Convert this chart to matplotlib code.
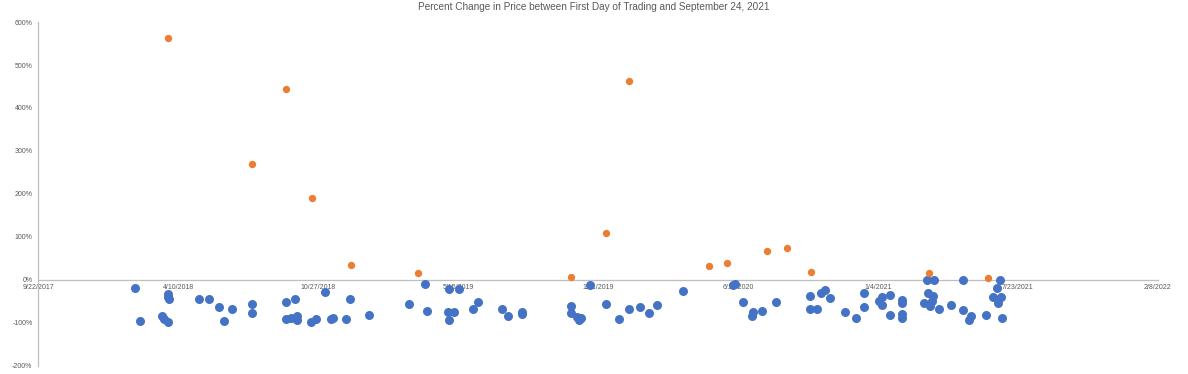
import matplotlib
matplotlib.use("Agg")
import matplotlib.pyplot as plt
import matplotlib.dates as mdates
from matplotlib.ticker import FuncFormatter, MultipleLocator
import pandas as pd

plt.rcParams['font.family'] = ['Liberation Sans', 'DejaVu Sans']

# stocks that rose since their first trading day (orange)
gain_dates = ['2018-03-27', '2018-07-24', '2018-09-11', '2018-10-18', '2018-12-13',
              '2019-03-19', '2019-10-24', '2019-12-12', '2020-01-15', '2020-05-07',
              '2020-06-03', '2020-07-29', '2020-08-27', '2020-09-30', '2021-03-18',
              '2021-06-10']
gain_pct = [562, 269, 445, 190, 34, 16, 6, 110, 462, 32, 39, 67, 74, 18, 17, 4]

# stocks that fell (blue)
loss_dates = ['2018-02-08', '2018-02-15', '2018-03-18', '2018-03-21', '2018-03-27',
              '2018-03-26', '2018-03-27', '2018-03-28', '2018-05-10', '2018-05-24',
              '2018-06-07', '2018-06-15', '2018-06-26', '2018-07-25', '2018-07-25',
              '2018-09-11', '2018-09-12', '2018-09-19', '2018-09-24', '2018-09-27',
              '2018-09-27', '2018-10-17', '2018-10-24', '2018-11-06', '2018-11-15',
              '2018-11-18', '2018-12-06', '2018-12-12', '2019-01-08',
              '2019-03-06', '2019-03-29', '2019-04-01', '2019-05-02', '2019-05-16',
              '2019-05-01', '2019-05-09', '2019-05-02', '2019-06-05', '2019-06-12',
              '2019-07-17', '2019-07-25', '2019-08-14', '2019-08-14', '2019-10-24',
              '2019-10-24', '2019-11-01', '2019-11-04', '2019-11-07', '2019-11-19',
              '2019-12-12', '2019-12-31', '2020-01-15', '2020-01-30', '2020-02-12',
              '2020-02-24', '2020-03-31',
              '2020-06-11', '2020-06-14', '2020-06-25', '2020-07-09', '2020-07-08',
              '2020-07-22', '2020-08-12', '2020-09-29', '2020-09-29', '2020-10-09',
              '2020-10-14', '2020-10-20', '2020-10-28', '2020-11-18', '2020-12-04',
              '2020-12-15', '2020-12-15', '2021-01-06', '2021-01-10', '2021-01-10',
              '2021-01-21', '2021-01-21', '2021-02-08', '2021-02-08', '2021-02-08',
              '2021-02-08', '2021-03-15', '2021-03-25', '2021-03-16', '2021-03-24',
              '2021-03-22', '2021-03-11', '2021-03-19', '2021-04-01', '2021-04-19',
              '2021-05-06', '2021-05-06', '2021-05-17', '2021-05-14', '2021-06-08',
              '2021-06-28', '2021-06-23', '2021-06-17', '2021-06-29', '2021-06-25',
              '2021-06-30']
loss_pct = [-19, -96, -84, -92, -97, -32, -39, -45, -45, -45,
            -63, -96, -69, -56, -78, -52, -92, -88, -45, -85,
            -93, -97, -92, -28, -92, -89, -92, -45, -82,
            -57, -10, -73, -22, -22, -75, -75, -93, -68, -52,
            -68, -84, -74, -80, -61, -77, -87, -93, -88, -12,
            -57, -91, -68, -63, -77, -59, -26,
            -13, -9, -52, -74, -84, -73, -52, -38, -69, -69,
            -30, -23, -42, -75, -89, -30, -63, -49, -40, -58,
            -35, -82, -48, -54, -79, -89, -1, -1, -31, -38,
            -49, -54, -61, -68, -59, -1, -71, -84, -94, -82,
            -1, -19, -40, -40, -54, -89]

x_start = pd.Timestamp('2017-09-22')
x_end = pd.Timestamp('2022-02-08')
x_ticks = pd.date_range(x_start, x_end, freq='200D')

fig = plt.figure(figsize=(11.88, 3.74), dpi=100)
ax = fig.add_axes([0.032, 0.022, 0.9427, 0.919])

ax.scatter(pd.to_datetime(loss_dates), loss_pct, s=42, color='#4472C4', zorder=3, linewidths=0)
ax.scatter(pd.to_datetime(gain_dates), gain_pct, s=28, color='#ED7D31', zorder=3, linewidths=0)

ax.set_xlim(x_start, x_end)
ax.set_ylim(-200, 600)
ax.yaxis.set_major_locator(MultipleLocator(100))
ax.yaxis.set_major_formatter(FuncFormatter(lambda v, p: f"{v:.0f}%"))
ax.set_xticks(x_ticks)
ax.xaxis.set_major_formatter(FuncFormatter(
    lambda v, p: f"{mdates.num2date(v).month}/{mdates.num2date(v).day}/{mdates.num2date(v).year}"))

for s in ['top', 'right']:
    ax.spines[s].set_visible(False)
ax.spines['bottom'].set_position(('data', 0))
ax.spines['bottom'].set_color('#bfbfbf')
ax.spines['left'].set_color('#bfbfbf')
ax.spines['bottom'].set_linewidth(0.9)
ax.spines['left'].set_linewidth(0.9)

ax.tick_params(axis='both', length=0, labelsize=5, labelcolor='#595959')
ax.tick_params(axis='x', pad=3)
ax.tick_params(axis='y', pad=4)

fig.suptitle('Percent Change in Price between First Day of Trading and September 24, 2021',
             y=0.995, fontsize=7.2, color='#595959')

fig.savefig('out.png', dpi=100)
